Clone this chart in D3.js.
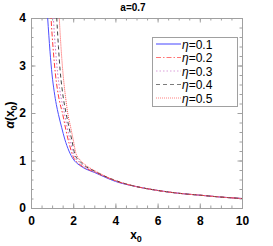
<!DOCTYPE html>
<html>
<head>
<meta charset="utf-8">
<script src="https://cdn.jsdelivr.net/npm/d3@7"></script>
<style>
  body { margin: 0; background: #fff; }
  text { font-family: "Liberation Sans", Arial, sans-serif; }
</style>
</head>
<body>
<script>
// values
var etaLabels = ['0.1', '0.2', '0.3', '0.4', '0.5'];

var x01 = [0.70, 0.79, 0.9, 1.0, 1.1, 1.2, 1.3, 1.45, 1.6, 1.8, 2.0, 2.3, 2.6, 3.0, 3.5, 4, 5, 6, 7, 8, 9, 10];
var a01 = [4.6, 4.0, 3.3, 2.8, 2.45, 2.18, 1.97, 1.7, 1.45, 1.2, 1.03, 0.9, 0.82, 0.75, 0.65, 0.56, 0.45, 0.37, 0.31, 0.27, 0.23, 0.2];

var x02 = [0.88, 0.95, 1.05, 1.15, 1.25, 1.35, 1.5, 1.65, 1.8, 2.0, 2.2, 2.5, 3.0, 3.5, 4, 5, 6, 7, 8, 9, 10];
var a02 = [4.6, 4.0, 3.35, 2.85, 2.5, 2.25, 1.98, 1.65, 1.37, 1.08, 0.96, 0.86, 0.76, 0.66, 0.57, 0.45, 0.37, 0.31, 0.27, 0.23, 0.2];

var x03 = [0.99, 1.06, 1.16, 1.26, 1.36, 1.46, 1.58, 1.72, 1.87, 2.03, 2.25, 2.5, 3.0, 3.5, 4, 5, 6, 7, 8, 9, 10];
var a03 = [4.6, 4.0, 3.35, 2.85, 2.5, 2.24, 2.0, 1.68, 1.4, 1.11, 0.98, 0.88, 0.77, 0.665, 0.575, 0.45, 0.37, 0.31, 0.27, 0.23, 0.2];

var x04 = [1.15, 1.22, 1.3, 1.38, 1.47, 1.56, 1.66, 1.8, 1.94, 2.08, 2.3, 2.55, 3.0, 3.5, 4, 5, 6, 7, 8, 9, 10];
var a04 = [4.6, 4.0, 3.4, 2.9, 2.52, 2.24, 2.0, 1.7, 1.42, 1.13, 0.99, 0.89, 0.78, 0.67, 0.58, 0.45, 0.37, 0.31, 0.27, 0.23, 0.2];

var x05 = [1.27, 1.34, 1.42, 1.5, 1.58, 1.66, 1.74, 1.87, 2.0, 2.13, 2.35, 2.6, 3.0, 3.5, 4, 5, 6, 7, 8, 9, 10];
var a05 = [4.6, 4.0, 3.4, 2.92, 2.55, 2.26, 2.0, 1.72, 1.44, 1.15, 1.0, 0.9, 0.79, 0.675, 0.58, 0.45, 0.37, 0.31, 0.27, 0.23, 0.2];

var xTicks = [0, 2, 4, 6, 8, 10];
var yTicks = [0, 1, 2, 3, 4];

var series = [
  { x: x01, a: a01, color: '#4f4fff', dash: null },
  { x: x02, a: a02, color: '#ff3c3c', dash: '5,2,1.5,2' },
  { x: x03, a: a03, color: '#cc77cc', dash: '1.5,2' },
  { x: x04, a: a04, color: '#444444', dash: '4,3' },
  { x: x05, a: a05, color: '#ff4d4d', dash: '1,1' }
];

var W = 273, H = 246;
var pL = 31, pR = 242, pT = 18, pB = 208;

var x = d3.scaleLinear().domain([0, 10]).range([pL, pR]);
var y = d3.scaleLinear().domain([0, 4]).range([pB, pT]);

var svg = d3.select('body').append('svg')
  .attr('width', W)
  .attr('height', H);

svg.append('defs').append('clipPath').attr('id', 'plot')
  .append('rect')
  .attr('x', pL).attr('y', pT)
  .attr('width', pR - pL).attr('height', pB - pT);

var frame = '#a0a0a0';

// minor ticks
var xMinor = d3.range(0, 10.01, 0.5);
var yMinor = d3.range(0, 4.01, 0.2);

svg.append('g').attr('transform', 'translate(0,' + pB + ')')
  .call(d3.axisBottom(x).tickValues(xMinor).tickSize(-2.5).tickFormat(''));
svg.append('g').attr('transform', 'translate(0,' + pT + ')')
  .call(d3.axisTop(x).tickValues(xMinor).tickSize(-2.5).tickFormat(''));
svg.append('g').attr('transform', 'translate(' + pL + ',0)')
  .call(d3.axisLeft(y).tickValues(yMinor).tickSize(-2.5).tickFormat(''));
svg.append('g').attr('transform', 'translate(' + pR + ',0)')
  .call(d3.axisRight(y).tickValues(yMinor).tickSize(-2.5).tickFormat(''));

// major ticks
svg.append('g').attr('class', 'xaxis').attr('transform', 'translate(0,' + pB + ')')
  .call(d3.axisBottom(x).tickValues(xTicks).tickSize(-4.5).tickPadding(8).tickFormat(d3.format('d')));
svg.append('g').attr('transform', 'translate(0,' + pT + ')')
  .call(d3.axisTop(x).tickValues(xTicks).tickSize(-4.5).tickFormat(''));
svg.append('g').attr('class', 'yaxis').attr('transform', 'translate(' + pL + ',0)')
  .call(d3.axisLeft(y).tickValues(yTicks).tickSize(-4.5).tickPadding(5).tickFormat(d3.format('d')));
svg.append('g').attr('transform', 'translate(' + pR + ',0)')
  .call(d3.axisRight(y).tickValues(yTicks).tickSize(-4.5).tickFormat(''));

svg.selectAll('.domain').attr('stroke', frame);
svg.selectAll('.tick line').attr('stroke', frame);
svg.selectAll('.xaxis text, .yaxis text')
  .attr('fill', '#000')
  .style('font-size', '12px')
  .style('font-weight', 'bold')
  .style('font-family', '"Liberation Sans", Arial, sans-serif');

// curves
var line = d3.line()
  .x(function(d) { return x(d[0]); })
  .y(function(d) { return y(d[1]); })
  .curve(d3.curveMonotoneX);

var plot = svg.append('g').attr('clip-path', 'url(#plot)');
series.forEach(function(s) {
  var pts = s.x.map(function(v, i) { return [v, s.a[i]]; });
  plot.append('path')
    .attr('d', line(pts))
    .attr('fill', 'none')
    .attr('stroke', s.color)
    .attr('stroke-width', 1)
    .attr('stroke-dasharray', s.dash);
});

// title and axis labels
svg.append('text')
  .attr('x', 133).attr('y', 11)
  .attr('text-anchor', 'middle')
  .style('font-size', '10px').style('font-weight', 'bold')
  .text('a=0.7');

var xl = svg.append('text')
  .attr('x', 136).attr('y', 239)
  .attr('text-anchor', 'middle')
  .style('font-size', '12px').style('font-weight', 'bold');
xl.append('tspan').text('x');
xl.append('tspan').attr('dy', 3).style('font-size', '9px').text('0');

var yl = svg.append('text')
  .attr('transform', 'translate(14,115) rotate(-90)')
  .attr('text-anchor', 'middle')
  .style('font-size', '12px').style('font-weight', 'bold');
yl.append('tspan').style('font-style', 'italic').text('α');
yl.append('tspan').text('(x');
yl.append('tspan').attr('dy', 3).style('font-size', '9px').text('0');
yl.append('tspan').attr('dy', -3).text(')');

// legend
var lg = svg.append('g');
lg.append('rect')
  .attr('x', 152.5).attr('y', 37.5)
  .attr('width', 85).attr('height', 69)
  .attr('fill', '#fff')
  .attr('stroke', frame);

series.forEach(function(s, i) {
  var yy = 44 + i * 13.5;
  lg.append('line')
    .attr('x1', 156).attr('x2', 181)
    .attr('y1', yy).attr('y2', yy)
    .attr('stroke', s.color)
    .attr('stroke-opacity', 0.7)
    .attr('stroke-width', i === 0 ? 1.5 : 1)
    .attr('stroke-dasharray', s.dash);
  var t = lg.append('text')
    .attr('x', 182).attr('y', yy + 4.5)
    .style('font-size', '12px');
  t.append('tspan').style('font-style', 'italic').text('η');
  t.append('tspan').text('=' + etaLabels[i]);
});
</script>
</body>
</html>
